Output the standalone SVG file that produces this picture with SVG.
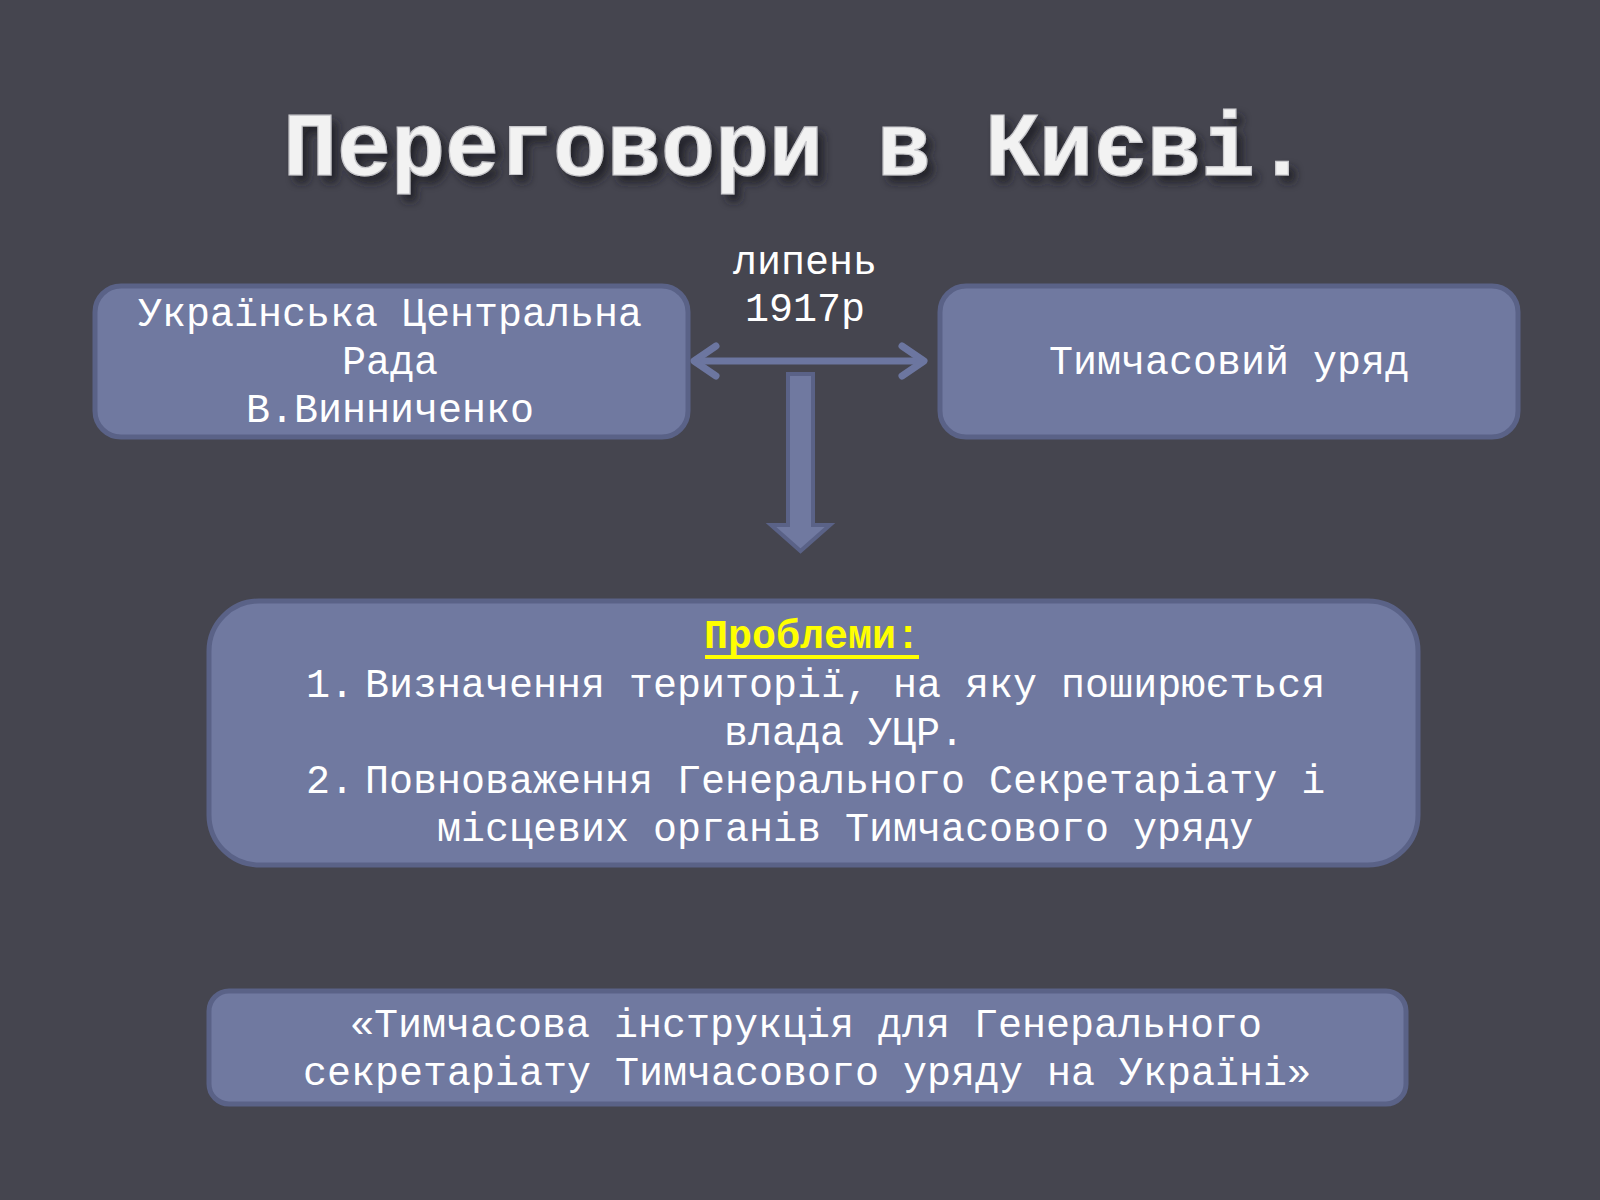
<svg xmlns="http://www.w3.org/2000/svg" width="1600" height="1200" viewBox="0 0 1600 1200">
<defs>
<style>
.box{fill:#7079a0;stroke:#5a6287;stroke-width:5}
.t{font-family:"Liberation Mono","Courier New",monospace;font-size:40px;fill:#ffffff}
.c{text-anchor:middle}
.title{font-family:"Liberation Mono","Courier New",monospace;font-size:90px;font-weight:bold;fill:#f2f2f2;stroke:#c8c8cc;stroke-width:1.2;text-anchor:middle}
.conn{fill:none;stroke:#6c76a0;stroke-width:7;stroke-linecap:round;stroke-linejoin:round}
</style>
<filter id="shadow" x="-10%" y="-30%" width="120%" height="160%">
<feGaussianBlur in="SourceAlpha" stdDeviation="4"/>
<feOffset dx="6" dy="7" result="b"/>
<feFlood flood-color="#1e1e24" flood-opacity="0.85"/>
<feComposite in2="b" operator="in" result="s"/>
<feMerge><feMergeNode in="s"/><feMergeNode in="SourceGraphic"/></feMerge>
</filter>
</defs>
<rect x="0" y="0" width="1600" height="1200" fill="#45454f"/>
<g id="title">
<text class="title" x="796" y="175" filter="url(#shadow)">Переговори в Києві.</text>
</g>
<g id="connectors">
<line class="conn" x1="696" y1="361" x2="922" y2="361"/>
<polyline class="conn" points="716,346 694,361 716,376"/>
<polyline class="conn" points="902,346 924,361 902,376"/>
<path d="M788,374 L813,374 L813,525 L830,525 L800.5,551 L771,525 L788,525 Z" fill="#7079a0" stroke="#5a6287" stroke-width="4" stroke-linejoin="miter"/>
</g>
<g id="date">
<text class="t c" x="805" y="274">липень</text>
<text class="t c" x="805" y="321">1917р</text>
</g>
<g id="ucr">
<rect class="box" x="95" y="286" width="593" height="151" rx="26"/>
<text class="t c" x="390" y="326">Українська Центральна</text>
<text class="t c" x="390" y="374">Рада</text>
<text class="t c" x="390" y="422">В.Винниченко</text>
</g>
<g id="gov">
<rect class="box" x="940" y="286" width="578" height="151" rx="26"/>
<text class="t c" x="1229" y="374">Тимчасовий уряд</text>
</g>
<g id="problems">
<rect class="box" x="209" y="601" width="1209" height="264" rx="50"/>
<text class="t c" x="812" y="648" style="fill:#ffff00;font-weight:bold">Проблеми:</text>
<rect x="705" y="655" width="214" height="4" fill="#ffff00"/>
<text class="t" x="306" y="697">1.</text>
<text class="t" x="365" y="697">Визначення території, на яку поширюється</text>
<text class="t" x="724" y="745">влада УЦР.</text>
<text class="t" x="306" y="793">2.</text>
<text class="t" x="365" y="793">Повноваження Генерального Секретаріату і</text>
<text class="t" x="437" y="841">місцевих органів Тимчасового уряду</text>
</g>
<g id="instruction">
<rect class="box" x="209" y="991" width="1197" height="113" rx="20"/>
<text class="t c" x="806" y="1037">«Тимчасова інструкція для Генерального</text>
<text class="t c" x="807" y="1085">секретаріату Тимчасового уряду на Україні»</text>
</g>
</svg>
